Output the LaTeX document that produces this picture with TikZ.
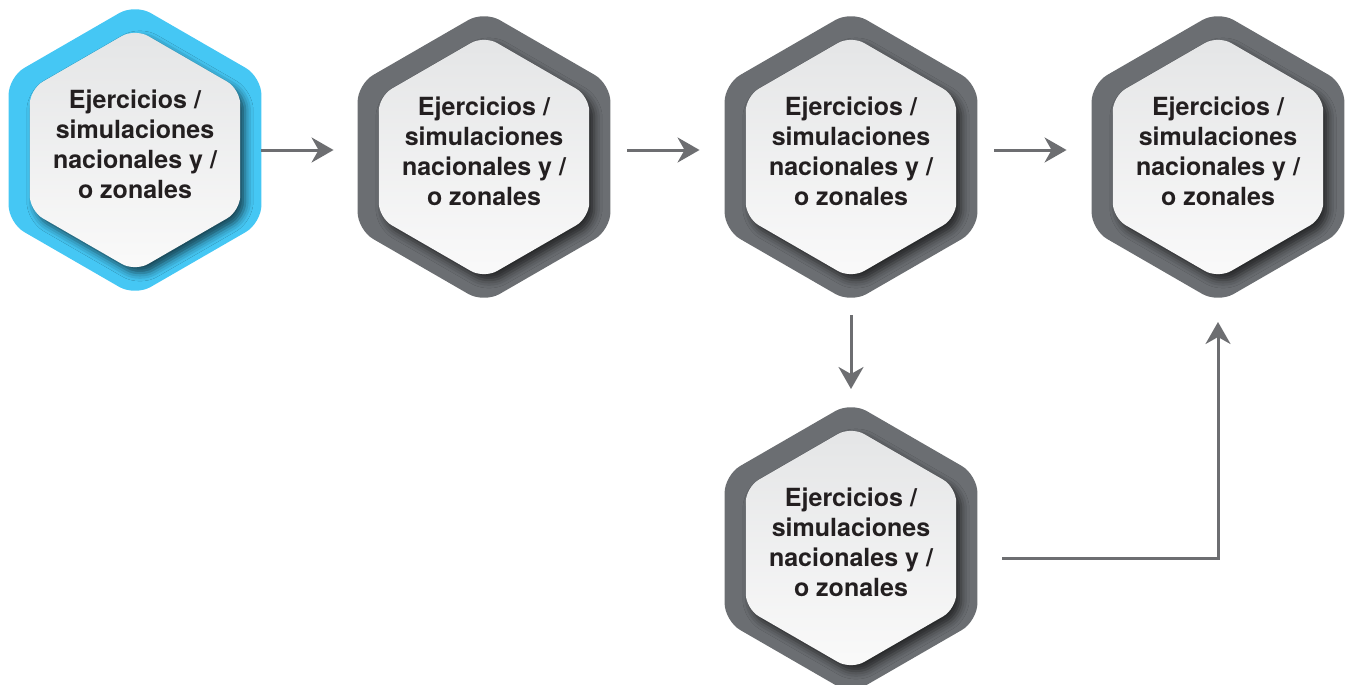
\documentclass[tikz,border=0pt]{standalone}
\usepackage{fontspec}
\setmainfont{TeX Gyre Heros}
\usepackage{tikz}
\usetikzlibrary{shapes.geometric,arrows.meta,shadows.blur}
\definecolor{hexcyan}{HTML}{45C7F4}
\definecolor{hexgray}{HTML}{6B6E72}
\definecolor{linkgray}{HTML}{6D6E71}
\definecolor{inktext}{HTML}{231F20}
\definecolor{innertop}{HTML}{E4E5E6}
\definecolor{innerbot}{HTML}{FAFAFA}
\tikzset{
  hexouter/.style={regular polygon,regular polygon sides=6,shape border rotate=90,
    minimum size=292pt,inner sep=0pt,outer sep=0pt,rounded corners=18pt,fill=hexgray},
  hexinner/.style={regular polygon,regular polygon sides=6,shape border rotate=90,
    minimum size=243pt,inner sep=-30pt,outer sep=0pt,rounded corners=15pt,
    top color=innertop,bottom color=innerbot,
    blur shadow={shadow xshift=5pt,shadow yshift=-6pt,shadow blur radius=8pt,shadow opacity=65},
    text=inktext,font=\fontsize{25}{30}\selectfont\bfseries},
  link/.style={draw=linkgray,line width=3pt,-{Stealth[length=22pt,width=25pt,inset=7pt]}}
}
\newcommand{\steptext}{\raisebox{3pt}[\height][\depth]{\begin{tabular}{@{}c@{}}Ejercicios /\\simulaciones\\nacionales y /\\o zonales\end{tabular}}}
\begin{document}
\begin{tikzpicture}[x=1pt,y=-1pt]
\useasboundingbox (0,0) rectangle (1349,685);
\node[hexouter,fill=hexcyan] (h1) at (135,150) {};
\node[hexinner] (t1) at (h1) {\steptext};
\node[hexouter] (h2) at (484,157) {};
\node[hexinner] (t2) at (h2) {\steptext};
\node[hexouter] (h3) at (851,157) {};
\node[hexinner] (t3) at (h3) {\steptext};
\node[hexouter] (h4) at (1218,157) {};
\node[hexinner] (t4) at (h4) {\steptext};
\node[hexouter] (h5) at (851,548) {};
\node[hexinner] (t5) at (h5) {\steptext};
\draw[link,shorten >=24pt] (h1.east) -- (h1.east -| h2.west);
\draw[link,shorten <=17pt,shorten >=25pt] (h2.east |- h1.east) -- (h3.west |- h1.east);
\draw[link,shorten <=17pt,shorten >=25pt] (h3.east |- h1.east) -- (h4.west |- h1.east);
\draw[link,shorten <=12pt,shorten >=13pt] (h3.south) -- (h5.north);
\draw[link,shorten <=25pt,shorten >=19pt] ([yshift=-10pt]h5.east) -| (h4.south);
\end{tikzpicture}
\end{document}
